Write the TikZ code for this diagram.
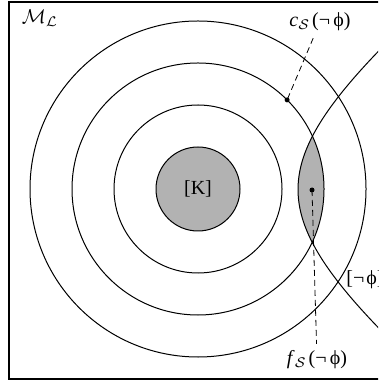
\documentclass[tikz,border=0pt]{standalone}
\usepackage{fontspec}
\setmainfont{Liberation Serif}
\usetikzlibrary{calc}

\begin{document}
\begin{tikzpicture}[x=0.5pt, y=-0.5pt,
    shade/.style={fill=black!30},
    guide/.style={dash pattern=on 3pt off 2pt},
    sphere/.style={line width=0.5pt}]

    \useasboundingbox (0,0) rectangle (378,383);
    \clip (0,0) rectangle (378,383);

    % center of the spheres
    \coordinate (O) at (198,189);

    % point on the second sphere, point inside the lens
    \coordinate (P) at ($(O)+(-45:126)$);
    \coordinate (Q) at (312,190);

    % lens: second sphere cut by the [~phi] region
    \begin{scope}
        \clip (O) circle (126);
        \fill[shade] plot[domain=-1.4:1.4, samples=60, smooth]
            ({145+153*cosh(\x)},{189.5+120*sinh(\x)}) -- (600,420) -- (600,-40) -- cycle;
    \end{scope}

    % the spheres round [K]
    \foreach \r in {84,126,168}
        \draw[sphere] (O) circle (\r);
    \filldraw[sphere, shade] (O) circle (42);
    \node (K) at (O) {[K]};

    % boundary of [~phi]
    \draw[sphere] plot[domain=-1.4:1.4, samples=60, smooth]
        ({145+153*cosh(\x)},{189.5+120*sinh(\x)});

    % frame
    \draw[line width=0.8pt] (9,2) rectangle (395,379);

    % labels
    \node (ML) at (40,18) {$\mathcal{M}_{\mathcal{L}}$};
    \node (cS) at (320,22) {\textit{c}$_{\mathcal{S}}$\kern1pt(¬\,ϕ)};
    \node (fS) at (317,360) {\textit{f}$_{\mathcal{S}}$\kern1pt(¬\,ϕ)};
    \node[anchor=west, inner sep=0pt] (nphi) at (346,280) {[¬\kern1ptϕ]};

    % the two points and their guides
    \fill (P) circle (2.5);
    \fill (Q) circle (2.5);
    \draw[guide] (cS) -- (P);
    \draw[guide] (Q) -- (fS);

\end{tikzpicture}
\end{document}
